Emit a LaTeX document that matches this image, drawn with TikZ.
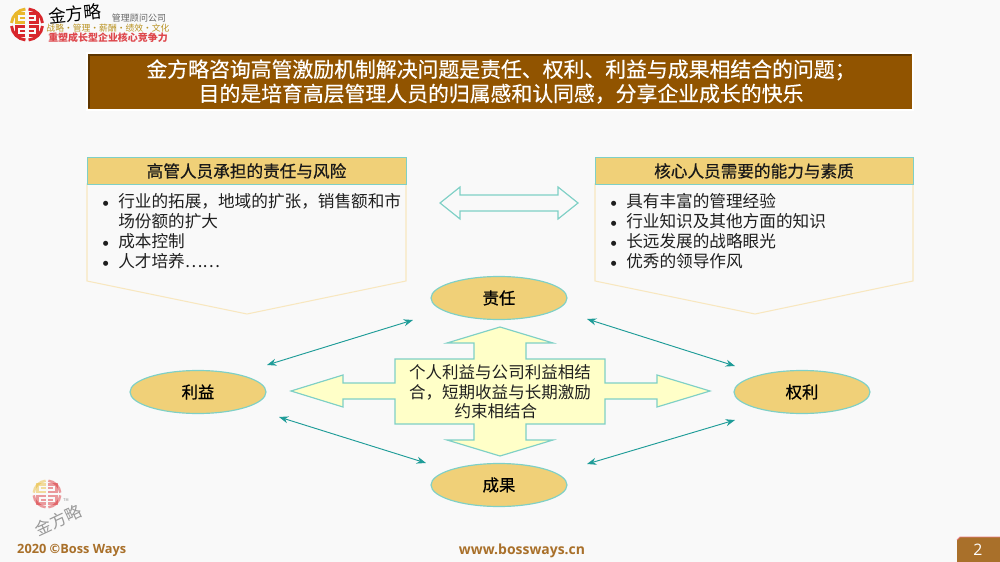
\documentclass[tikz,border=0pt]{standalone}
\usepackage{fontspec}
\setmainfont{Noto Sans CJK SC}
\newfontfamily\footfont{Open Sans}
\newfontfamily\symfont{DejaVu Sans}
\usetikzlibrary{shapes.geometric,arrows.meta}
\definecolor{pagebg}{HTML}{F9F9F9}
\definecolor{titlebrown}{HTML}{915400}
\definecolor{titledark}{HTML}{5E3600}
\definecolor{headgold}{HTML}{F0D078}
\definecolor{paleline}{HTML}{F8E7BF}
\definecolor{tealline}{HTML}{7FD0C6}
\definecolor{tealarrow}{HTML}{1E9C98}
\definecolor{creamfill}{HTML}{FFFFC8}
\definecolor{footbrown}{HTML}{A9702A}
\definecolor{logored}{HTML}{D8262C}
\definecolor{logoyellow}{HTML}{E9B82C}
\newcommand{\sz}[1]{\fontsize{#1}{#1}\selectfont}
\newcommand{\fb}{\addfontfeature{FakeBold=0.6}}
\newcommand{\bl}{\makebox[13.7pt][l]{\hspace*{0.6pt}\raisebox{1.2pt}{\symfont\sz{5.6}●}}}
\newcommand{\seallogo}[4]{%
 \begin{scope}[shift={(#1,#2)},x=#3*0.03cm,y=#3*0.03cm,opacity=#4]
  \foreach \sx/\sy/\tint in {1/1/logored,-1/1/logoyellow,1/-1/logored,-1/-1/logored}{
   \begin{scope}[xscale=\sx,yscale=\sy]
   \draw[\tint,line width=#3*0.14pt,line cap=butt] (0.09,0.885) arc (84.2:5.8:0.89);
   \draw[\tint,line width=#3*0.14pt,line join=miter,line cap=butt] (0.09,0.62) -- (0.62,0.62) -- (0.62,0.13) -- (0.09,0.13);
   \draw[\tint,line width=#3*0.12pt,line cap=butt] (0.09,0.38) -- (0.38,0.38);
   \end{scope}
  }
 \end{scope}}
\tikzset{
 panelhead/.style={draw=tealline,fill=headgold,line width=0.8pt},
 panelbody/.style={draw=paleline,fill=pagebg,line width=0.9pt},
 blockarrow/.style={draw=tealline,line width=1pt,line join=miter},
 oval/.style={ellipse,draw=tealline,fill=headgold,line width=1pt,inner sep=0pt,minimum width=4.08cm,minimum height=1.29cm,font=\sz{14}\fb},
 link/.style={draw=tealarrow,line width=0.8pt,{Stealth[length=8pt,width=6pt]}-{Stealth[length=8pt,width=6pt]}},
 headtext/.style={font=\sz{14.2}\fb,inner sep=0pt,text=black!90},
 bodytext/.style={font=\sz{14.2},inner sep=0pt,align=left,anchor=north west,text=black!88}
}
\begin{document}
\begin{tikzpicture}[x=0.03cm,y=-0.03cm]
\useasboundingbox (0,0) rectangle (1000,562);
\fill[pagebg] (0,0) rectangle (1000,562);
% top logo
\seallogo{27}{24.5}{17.5}{1}
\node[inner sep=0pt,font=\sz{15},rotate=6] (brand) at (75,14) {金方略};
\node[inner sep=0pt,font=\sz{7.7},text=black!60] (firm) at (139,18) {管理顾问公司};
\node[inner sep=0pt,font=\sz{7.5},text=logoyellow!80!black] (motto) at (108,28) {战略•管理•薪酬•绩效•文化};
\node[inner sep=0pt,font=\bfseries\sz{8.5},text=logored!85] (slogan) at (108,38) {重塑成长型企业核心竞争力};
% title
\node[fill=white,minimum width=24.84cm,minimum height=1.74cm,inner sep=0pt] (titlehalo) at (500,81.5) {};
\fill[titlebrown] (88,54) rectangle (912,109);
\draw[titledark,line width=2pt] (89,108) -- (89,55) -- (911,55);
\node[text=white,align=center,inner sep=0pt,font=\sz{17.8}\addfontfeature{FakeBold=0.4}] (title) at (501,81.5) {金方略咨询高管激励机制解决问题是责任、权利、利益与成果相结合的问题；\\[1.8pt]目的是培育高层管理人员的归属感和认同感，分享企业成长的快乐};
% left panel
\draw[panelbody] (87,184) -- (406,184) -- (406,281) -- (247,314) -- (87,281) -- cycle;
\draw[panelhead] (87,157) rectangle (406,184);
\node[headtext] (lefthead) at (246.5,171) {高管人员承担的责任与风险};
\node[bodytext] (leftbody) at (102,193) {\bl 行业的拓展，地域的扩张，销售额和市\\[2.8pt]\hspace*{13.7pt}场份额的扩大\\[2.8pt]\bl 成本控制\\[2.8pt]\bl 人才培养……};
% right panel
\draw[panelbody] (595,184) -- (913,184) -- (913,281) -- (755,314) -- (595,281) -- cycle;
\draw[panelhead] (595,157) rectangle (913,184);
\node[headtext] (righthead) at (754,171) {核心人员需要的能力与素质};
\node[bodytext] (rightbody) at (610,193) {\bl 具有丰富的管理经验\\[2.8pt]\bl 行业知识及其他方面的知识\\[2.8pt]\bl 长远发展的战略眼光\\[2.8pt]\bl 优秀的领导作风};
% double arrow between panels
\draw[blockarrow,fill=pagebg] (440,203) -- (460,187) -- (460,195) -- (558,195) -- (558,187) -- (578,203) -- (558,219) -- (558,211) -- (460,211) -- (460,219) -- cycle;
% central cross arrow
\draw[blockarrow,fill=creamfill] (500,327) -- (553,343) -- (526,343) -- (526,359) -- (605,359) -- (605,383) -- (657,383) -- (657,375) -- (710,391) -- (657,407) -- (657,399) -- (605,399) -- (605,424) -- (526,424) -- (526,440) -- (553,440) -- (500,456) -- (447,440) -- (474,440) -- (474,424) -- (395,424) -- (395,399) -- (343,399) -- (343,407) -- (291,391) -- (343,375) -- (343,383) -- (395,383) -- (395,359) -- (474,359) -- (474,343) -- (447,343) -- cycle;
\node[inner sep=0pt,align=center,font=\sz{14.1},text=black!88] (crosstext) at (500,392) {个人利益与公司利益相结\\[2.6pt]合，短期收益与长期激励\\[2.6pt]约束相结合\hspace*{7pt}};
% ovals
\node[oval] (duty) at (499,298) {责任};
\node[oval] (result) at (499,485) {成果};
\node[oval] (gain) at (198,392) {利益};
\node[oval] (power) at (802,392) {权利};
% connectors
\coordinate (a1) at (267,365); \coordinate (a2) at (413,320);
\coordinate (b1) at (587,319); \coordinate (b2) at (735,366);
\coordinate (c1) at (279,417); \coordinate (c2) at (426,463);
\coordinate (d1) at (587,464); \coordinate (d2) at (735,420);
\draw[link] (a1) -- (a2);
\draw[link] (b1) -- (b2);
\draw[link] (c1) -- (c2);
\draw[link] (d1) -- (d2);
% watermark
\seallogo{47}{494}{15}{0.45}
\node[inner sep=0pt,font=\sz{14},rotate=25,text=black!40] (wmark) at (58,520) {金方略};
\node[inner sep=0pt,font=\sz{3.2},text=black!45] (tm) at (66,500) {TM};
% footer
\node[inner sep=0pt,anchor=west,font=\footfont\bfseries\sz{10.9},text=footbrown] (year) at (17,550) {2020 ©Boss Ways};
\node[inner sep=0pt,font=\footfont\bfseries\sz{11.9},text=footbrown] (site) at (522,551) {www.bossways.cn};
\fill[footbrown] (957,540) -- (960,537) -- (1000,537) -- (1000,562) -- (957,562) -- cycle;
\draw[logored!60,line width=0.7pt] (957,540) -- (960,537) -- (1000,537);
\node[inner sep=0pt,font=\footfont\sz{13.5},text=white] (page) at (978,549.5) {2};
\end{tikzpicture}
\end{document}
